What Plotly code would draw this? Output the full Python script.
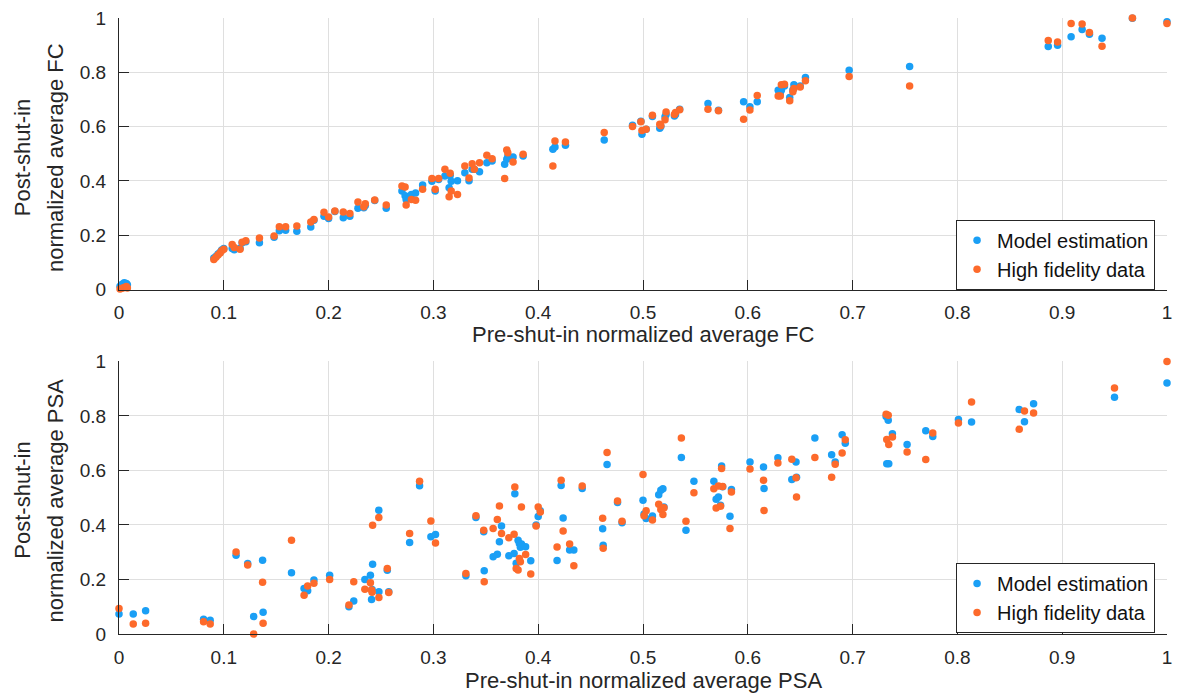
import plotly.graph_objects as go

# ---------------- Data: FC (top panel) ----------------
fc_pre = [0.001, 0.003, 0.005, 0.007, 0.008,
          0.0905, 0.0925, 0.0945, 0.0965, 0.098, 0.100, 0.108, 0.110, 0.1155, 0.1175,
          0.121, 0.134, 0.148, 0.153, 0.159, 0.1697, 0.183, 0.186, 0.1956, 0.200,
          0.206, 0.214, 0.2203, 0.228, 0.2336, 0.235, 0.244, 0.255, 0.270, 0.273,
          0.274, 0.279, 0.283, 0.2897, 0.2986, 0.3017, 0.305, 0.311, 0.315, 0.316,
          0.317, 0.323, 0.330, 0.334, 0.337, 0.339, 0.344, 0.351, 0.356, 0.368,
          0.370, 0.371, 0.376, 0.3856, 0.414, 0.416, 0.426, 0.463, 0.490, 0.498,
          0.499, 0.503, 0.509, 0.516, 0.517, 0.521, 0.522, 0.530, 0.531, 0.535,
          0.562, 0.572, 0.596, 0.602, 0.609, 0.629, 0.631, 0.632, 0.635, 0.640,
          0.643, 0.644, 0.650, 0.655, 0.6967, 0.7544, 0.8867, 0.8956, 0.9085, 0.919,
          0.926, 0.938, 0.967, 1.000]
fc_model = [0.012, 0.020, 0.025, 0.022, 0.018,
            0.116, 0.122, 0.131, 0.137, 0.146, 0.151, 0.151, 0.147, 0.152, 0.172,
            0.176, 0.172, 0.193, 0.217, 0.218, 0.215, 0.230, 0.255, 0.270, 0.262,
            0.287, 0.264, 0.270, 0.299, 0.301, 0.310, 0.328, 0.299, 0.363, 0.345,
            0.332, 0.350, 0.356, 0.385, 0.399, 0.363, 0.405, 0.418, 0.375, 0.420,
            0.399, 0.401, 0.430, 0.401, 0.443, 0.443, 0.434, 0.467, 0.473, 0.461,
            0.480, 0.490, 0.488, 0.492, 0.517, 0.525, 0.531, 0.551, 0.605, 0.620,
            0.572, 0.590, 0.637, 0.594, 0.600, 0.636, 0.645, 0.639, 0.645, 0.664,
            0.685, 0.660, 0.692, 0.673, 0.692, 0.734, 0.720, 0.734, 0.750, 0.707,
            0.735, 0.754, 0.750, 0.781, 0.808, 0.821, 0.895, 0.900, 0.931, 0.958,
            0.940, 0.925, 0.999, 0.986]
fc_hifi = [0.002, 0.005, 0.008, 0.011, 0.006,
           0.111, 0.119, 0.127, 0.135, 0.143, 0.148, 0.166, 0.155, 0.148, 0.1745,
           0.180, 0.190, 0.197, 0.231, 0.231, 0.234, 0.249, 0.258, 0.285, 0.267,
           0.289, 0.286, 0.280, 0.322, 0.305, 0.316, 0.3295, 0.311, 0.381, 0.378,
           0.311, 0.332, 0.329, 0.369, 0.409, 0.369, 0.409, 0.443, 0.342, 0.428,
           0.363, 0.350, 0.455, 0.411, 0.463, 0.443, 0.467, 0.495, 0.482, 0.409,
           0.514, 0.504, 0.470, 0.498, 0.455, 0.547, 0.543, 0.578, 0.600, 0.618,
           0.586, 0.590, 0.642, 0.609, 0.603, 0.625, 0.654, 0.645, 0.652, 0.662,
           0.664, 0.658, 0.627, 0.661, 0.715, 0.713, 0.713, 0.754, 0.756, 0.695,
           0.728, 0.740, 0.746, 0.769, 0.785, 0.750, 0.917, 0.912, 0.980, 0.978,
           0.947, 0.896, 1.000, 0.980]

# ---------------- Data: PSA (bottom panel) ----------------
psa_pre = [0.000, 0.0136, 0.0254, 0.0807, 0.087, 0.1117, 0.1228, 0.1285, 0.137, 0.1375,
           0.1646, 0.1766, 0.180, 0.186, 0.201, 0.2194, 0.224, 0.2346, 0.2399, 0.241,
           0.2415, 0.242, 0.2479, 0.248, 0.256, 0.2574, 0.2773, 0.2868, 0.2976, 0.302,
           0.331, 0.3406, 0.348, 0.3485, 0.357, 0.361, 0.363, 0.365, 0.372, 0.377,
           0.3777, 0.379, 0.3808, 0.382, 0.383, 0.384, 0.388, 0.3929, 0.398, 0.400,
           0.402, 0.418, 0.4219, 0.4238, 0.430, 0.434, 0.442, 0.4615, 0.462, 0.4657,
           0.4757, 0.480, 0.500, 0.501, 0.503, 0.509, 0.515, 0.517, 0.519, 0.520,
           0.5366, 0.541, 0.5486, 0.5676, 0.5698, 0.572, 0.574, 0.575, 0.576, 0.5844,
           0.583, 0.6021, 0.615, 0.6155, 0.6287, 0.642, 0.646, 0.6465, 0.664, 0.680,
           0.6834, 0.690, 0.693, 0.732, 0.734, 0.7326, 0.7345, 0.738, 0.752, 0.7698,
           0.7765, 0.801, 0.8135, 0.859, 0.864, 0.8727, 0.9499, 1.000]
psa_model = [0.073, 0.073, 0.085, 0.054, 0.050, 0.289, 0.259, 0.064, 0.271, 0.080,
             0.225, 0.167, 0.159, 0.198, 0.216, 0.100, 0.121, 0.200, 0.216, 0.127,
             0.163, 0.256, 0.454, 0.155, 0.234, 0.155, 0.336, 0.544, 0.357, 0.365,
             0.214, 0.427, 0.375, 0.232, 0.283, 0.293, 0.338, 0.396, 0.287, 0.295,
             0.515, 0.260, 0.344, 0.332, 0.318, 0.330, 0.320, 0.269, 0.400, 0.431,
             0.452, 0.270, 0.545, 0.426, 0.308, 0.308, 0.534, 0.386, 0.326, 0.622,
             0.482, 0.408, 0.491, 0.440, 0.424, 0.433, 0.511, 0.527, 0.533, 0.466,
             0.648, 0.381, 0.560, 0.560, 0.494, 0.503, 0.472, 0.616, 0.540, 0.530,
             0.432, 0.631, 0.613, 0.534, 0.647, 0.567, 0.631, 0.575, 0.719, 0.658,
             0.631, 0.731, 0.700, 0.798, 0.784, 0.625, 0.625, 0.735, 0.695, 0.746,
             0.725, 0.787, 0.778, 0.824, 0.779, 0.845, 0.869, 0.921]
psa_hifi = [0.094, 0.037, 0.039, 0.045, 0.037, 0.301, 0.253, 0.000, 0.190, 0.039,
            0.344, 0.142, 0.176, 0.186, 0.200, 0.106, 0.192, 0.164, 0.188, 0.161,
            0.153, 0.399, 0.427, 0.134, 0.240, 0.152, 0.369, 0.560, 0.415, 0.334,
            0.222, 0.434, 0.381, 0.192, 0.387, 0.420, 0.470, 0.369, 0.353, 0.366,
            0.539, 0.240, 0.235, 0.277, 0.265, 0.466, 0.292, 0.220, 0.396, 0.466,
            0.448, 0.319, 0.564, 0.378, 0.330, 0.250, 0.543, 0.425, 0.315, 0.666,
            0.488, 0.414, 0.585, 0.434, 0.452, 0.418, 0.476, 0.457, 0.438, 0.463,
            0.719, 0.414, 0.518, 0.533, 0.462, 0.543, 0.469, 0.607, 0.541, 0.521,
            0.387, 0.605, 0.564, 0.453, 0.627, 0.641, 0.573, 0.503, 0.648, 0.575,
            0.623, 0.664, 0.713, 0.806, 0.803, 0.714, 0.695, 0.723, 0.668, 0.640,
            0.737, 0.774, 0.851, 0.751, 0.818, 0.811, 0.903, 1.000]

x_ticks = [0, 0.1, 0.2, 0.3, 0.4, 0.5, 0.6, 0.7, 0.8, 0.9, 1]
x_tick_labels = ["0", "0.1", "0.2", "0.3", "0.4", "0.5", "0.6", "0.7", "0.8", "0.9", "1"]
y_ticks = [0, 0.2, 0.4, 0.6, 0.8, 1]
y_tick_labels = ["0", "0.2", "0.4", "0.6", "0.8", "1"]

BLUE = "#1a9ff5"
ORANGE = "#fd6a2b"
AX = "#262626"
FONT = "Liberation Sans, Arial, Helvetica, sans-serif"

fig = go.Figure()
mk = dict(size=7.5, line=dict(width=0))
fig.add_trace(go.Scatter(x=fc_pre, y=fc_model, mode="markers", name="Model estimation",
                         marker=dict(color=BLUE, **mk), xaxis="x", yaxis="y",
                         legend="legend", cliponaxis=False))
fig.add_trace(go.Scatter(x=fc_pre, y=fc_hifi, mode="markers", name="High fidelity data",
                         marker=dict(color=ORANGE, **mk), xaxis="x", yaxis="y",
                         legend="legend", cliponaxis=False))
fig.add_trace(go.Scatter(x=psa_pre, y=psa_model, mode="markers", name="Model estimation",
                         marker=dict(color=BLUE, **mk), xaxis="x2", yaxis="y2",
                         legend="legend2", cliponaxis=False))
fig.add_trace(go.Scatter(x=psa_pre, y=psa_hifi, mode="markers", name="High fidelity data",
                         marker=dict(color=ORANGE, **mk), xaxis="x2", yaxis="y2",
                         legend="legend2", cliponaxis=False))

W, H = 1180, 696
L, R, T, B = 119, 8, 17, 62
ph = H - T - B


def py2paper(py):
    return (H - B - py) / ph


def px2paper(px):
    return (px - L) / (W - L - R)


axis_common = dict(range=[0, 1], showgrid=True, gridcolor="#dfdfdf", gridwidth=1,
                   zeroline=False, showline=True, linecolor=AX, linewidth=1,
                   ticks="inside", ticklen=10, tickcolor=AX, tickwidth=1,
                   tickfont=dict(family=FONT, size=19, color=AX), mirror=False,
                   fixedrange=True)

xa = dict(axis_common, tickvals=x_ticks, ticktext=x_tick_labels, ticklabelstandoff=6)
ya = dict(axis_common, tickvals=y_ticks, ticktext=y_tick_labels, ticklabelstandoff=8)

leg_common = dict(xanchor="right", yanchor="top", bgcolor="white", bordercolor=AX,
                  borderwidth=1, font=dict(family=FONT, size=20, color="#111111"),
                  itemsizing="trace")

fig.update_layout(
    width=W, height=H,
    margin=dict(l=L, r=R, t=T, b=B),
    paper_bgcolor="white", plot_bgcolor="white",
    font=dict(family=FONT, color=AX),
    xaxis=dict(xa, domain=[0, 1], anchor="y"),
    yaxis=dict(ya, domain=[py2paper(289), 1], anchor="x"),
    xaxis2=dict(xa, domain=[0, 1], anchor="y2"),
    yaxis2=dict(ya, domain=[0, py2paper(361)], anchor="x2"),
    showlegend=True,
    legend=dict(leg_common, x=px2paper(1160), y=py2paper(219)),
    legend2=dict(leg_common, x=px2paper(1160), y=py2paper(563)),
)

title_font = dict(family=FONT, size=22, color=AX)
annots = [
    dict(text="Pre-shut-in normalized average FC", x=0.5, y=py2paper(334)),
    dict(text="Pre-shut-in normalized average PSA", x=0.5, y=py2paper(681)),
]
for a in annots:
    fig.add_annotation(xref="paper", yref="paper", showarrow=False, xanchor="center",
                       yanchor="middle", font=title_font, **a)

for line, xc in (("Post-shut-in", 22), ("normalized average FC", 55)):
    fig.add_annotation(text=line, xref="paper", yref="paper", x=px2paper(xc), y=py2paper(157),
                       textangle=-90, showarrow=False, xanchor="center", yanchor="middle",
                       font=title_font)
for line, xc in (("Post-shut-in", 22), ("normalized average PSA", 55)):
    fig.add_annotation(text=line, xref="paper", yref="paper", x=px2paper(xc), y=py2paper(500),
                       textangle=-90, showarrow=False, xanchor="center", yanchor="middle",
                       font=title_font)

fig.write_html("out.html")
